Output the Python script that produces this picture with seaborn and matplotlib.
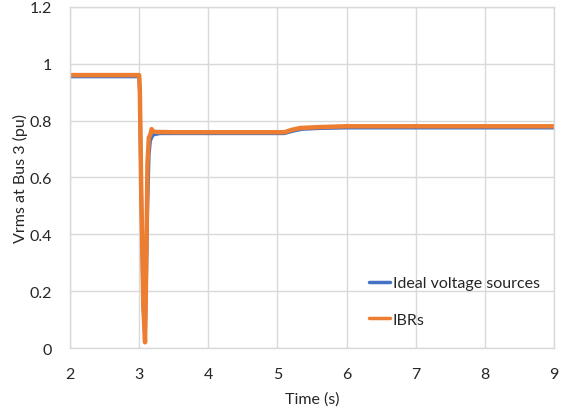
import matplotlib
matplotlib.use("Agg")
import matplotlib.pyplot as plt
import seaborn as sns
import pandas as pd

# Bus 3 RMS voltage traces (pu) versus simulation time (s)
t_ideal = [2.0, 3.0, 3.01, 3.03, 3.06, 3.085, 3.10, 3.12, 3.14, 3.16, 3.20, 3.30, 3.50,
           5.10, 5.20, 5.35, 5.60, 6.00, 9.00]
v_ideal = [0.955, 0.955, 0.90, 0.55, 0.15, 0.03, 0.22, 0.50, 0.68, 0.73, 0.75, 0.755, 0.755,
           0.755, 0.762, 0.770, 0.773, 0.775, 0.775]

t_ibr = [2.0, 3.0, 3.01, 3.03, 3.06, 3.085, 3.10, 3.12, 3.14, 3.16, 3.18, 3.20, 3.25, 3.50,
         5.10, 5.20, 5.33, 5.60, 6.00, 9.00]
v_ibr = [0.96, 0.96, 0.90, 0.55, 0.15, 0.02, 0.25, 0.65, 0.74, 0.75, 0.77, 0.762, 0.76, 0.759,
         0.759, 0.767, 0.774, 0.777, 0.780, 0.780]

series_names = ["Ideal voltage sources", "IBRs"]
series_colors = ["#4472C4", "#ED7D31"]

df = pd.concat([
    pd.DataFrame({"Time (s)": t_ideal, "V": v_ideal, "Series": series_names[0]}),
    pd.DataFrame({"Time (s)": t_ibr, "V": v_ibr, "Series": series_names[1]}),
], ignore_index=True)

sns.set_style("white")
plt.rcParams["font.family"] = ["Lato", "DejaVu Sans"]

fig = plt.figure(figsize=(5.62, 4.14), dpi=100)
ax = fig.add_axes([0.1246, 0.157, 0.8612, 0.824])

sns.lineplot(data=df, x="Time (s)", y="V", hue="Series", hue_order=series_names,
             palette=series_colors, ax=ax, linewidth=3.0, estimator=None, sort=False)
for ln, lw in zip(ax.lines, [2.6, 3.2]):
    ln.set_linewidth(lw)
    ln.set_solid_joinstyle("round")

ax.set_xlim(2, 9)
ax.set_ylim(0, 1.2)
ax.set_xticks(range(2, 10))
ax.set_yticks([0, 0.2, 0.4, 0.6, 0.8, 1.0, 1.2])
ax.set_yticklabels(["0", "0.2", "0.4", "0.6", "0.8", "1", "1.2"])
ax.grid(True, color="#d9d9d9", linewidth=1.0)
ax.set_axisbelow(True)
for s in ax.spines.values():
    s.set_color("#d9d9d9")
    s.set_linewidth(1.0)
fs = 11.5
ax.tick_params(axis="both", length=0, labelsize=fs, colors="#262626")
ax.tick_params(axis="x", pad=14)
ax.tick_params(axis="y", pad=13)
ax.set_xlabel("Time (s)", fontsize=fs, color="#262626", labelpad=7)
ax.set_ylabel("Vrms at Bus 3 (pu)", fontsize=fs, color="#262626", labelpad=1)

leg = ax.legend(loc="lower right", bbox_to_anchor=(1.0, 0.02), frameon=False,
                fontsize=fs, handlelength=1.3, handletextpad=0.15, labelspacing=1.4)
for h in leg.get_lines():
    h.set_linewidth(2.5)

fig.savefig("out.png", dpi=100)
